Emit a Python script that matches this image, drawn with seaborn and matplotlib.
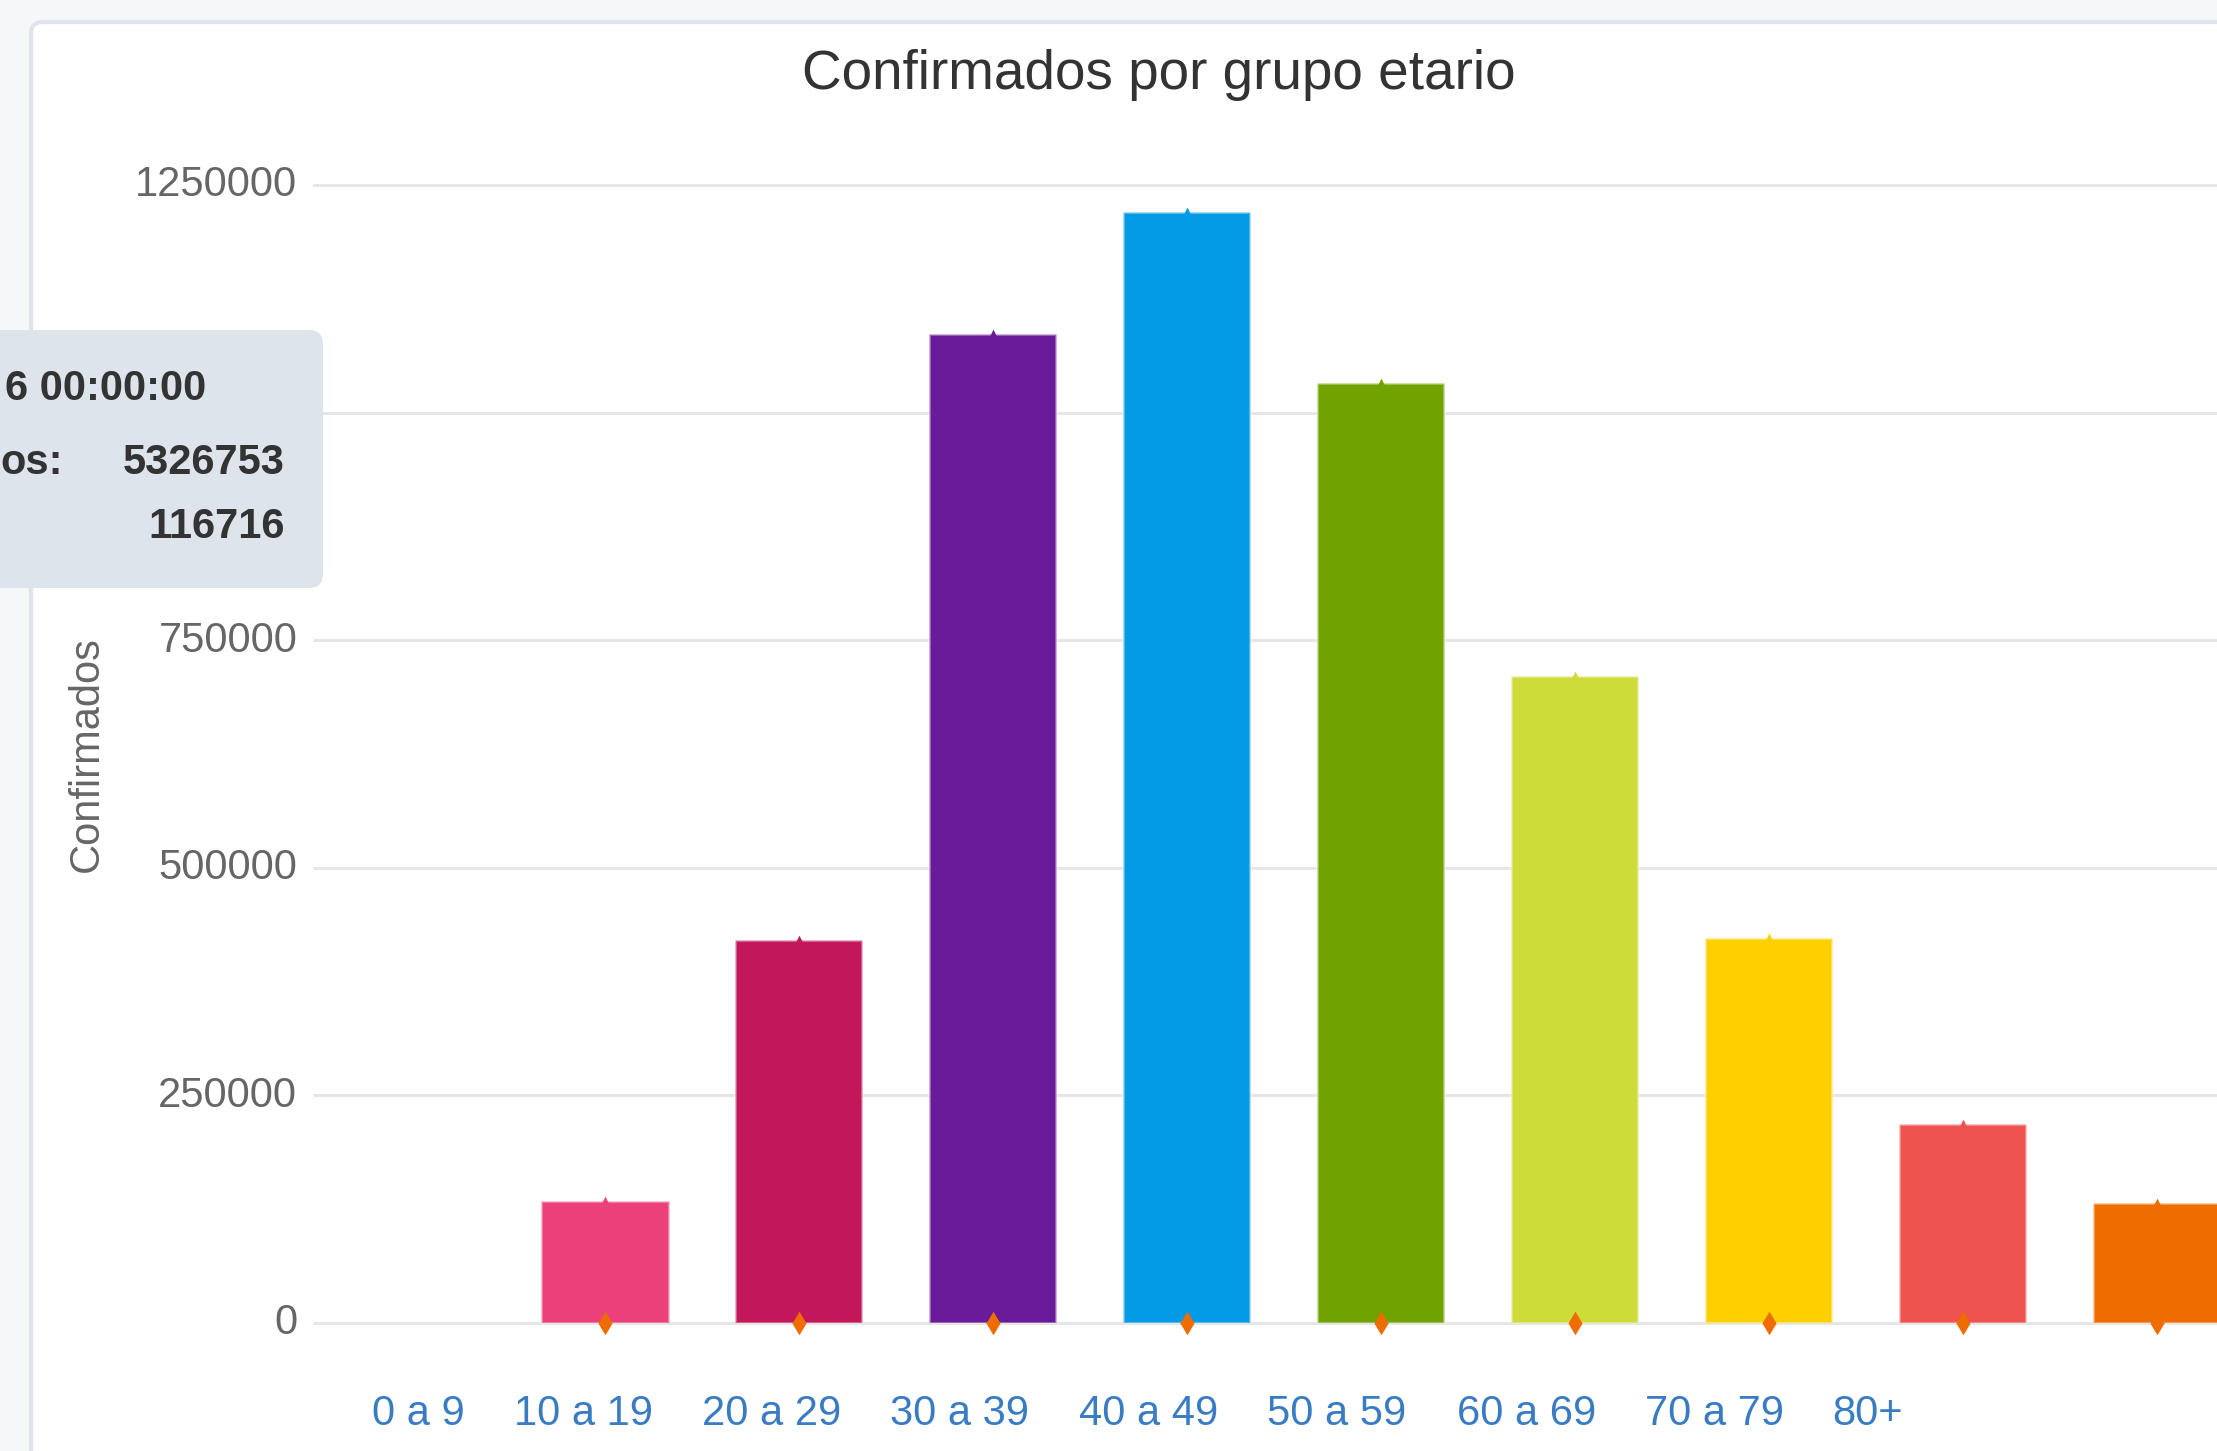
import matplotlib
matplotlib.use("Agg")
import matplotlib.pyplot as plt
from matplotlib.patches import FancyBboxPatch
from matplotlib.transforms import IdentityTransform, ScaledTranslation
import seaborn as sns
import pandas as pd

# values
grupos = ["0 a 9", "10 a 19", "20 a 29", "30 a 39", "40 a 49", "50 a 59", "60 a 69", "70 a 79", "80+"]
confirmados = [134000, 420500, 1086000, 1220000, 1032500, 710500, 423000, 218500, 131800]
serie_base = [0, 0, 0, 0, 0, 0, 0, 0, 0]
colores = ["#ec407a", "#c2185b", "#6a1b9a", "#039be5", "#70a300",
           "#cddc39", "#ffd000", "#ef5350", "#ef6c00"]
y_ticks = [0, 250000, 500000, 750000, 1000000, 1250000]
# the 1000000 label is hidden under the tooltip in the screenshot
y_labels = ["0", "250000", "500000", "750000", "", "1250000"]
tooltip_fecha = "6 00:00:00"
tooltip_etiqueta = "os:"
tooltip_valores = ["5326753", "116716"]

# where the (shifted) category labels sit, in slot units
pos_etiquetas = [0.04, 0.89, 1.86, 2.83, 3.80, 4.77, 5.75, 6.72, 7.51]

W, H = 2217, 1451

sns.set_theme(style="white")
plt.rcParams["font.family"] = ["Liberation Sans", "DejaVu Sans"]

fig = plt.figure(figsize=(W / 100, H / 100), dpi=100)
fig.patch.set_facecolor("#f5f7f9")

# white card behind the chart
card = FancyBboxPatch((31, -40), W + 100, H - 22 + 40,
                      boxstyle="round,pad=0,rounding_size=12",
                      transform=IdentityTransform(), fc="white", ec="#dfe4ec",
                      lw=3, zorder=-5)
fig.add_artist(card)

ax = fig.add_axes([314 / W, 1 - 1323 / H, 1 - 314 / W, (1323 - 185) / H])
ax.patch.set_alpha(0)

df = pd.DataFrame({"grupo": grupos, "confirmados": confirmados, "base": serie_base})
orden = [""] + grupos
paleta = dict(zip(grupos, colores))

sns.barplot(data=df, x="grupo", y="confirmados", order=orden, hue="grupo",
            palette=paleta, width=0.655, saturation=1,
            edgecolor=(1, 1, 1, 0.35), linewidth=2, legend=False, ax=ax, zorder=2)
sns.stripplot(data=df, x="grupo", y="confirmados", order=orden, hue="grupo",
              palette=paleta, marker="^", size=7, jitter=False, linewidth=0,
              legend=False, ax=ax, zorder=3)
sns.stripplot(data=df, x="grupo", y="base", order=orden, color="#ef6c00",
              marker="d", size=12, jitter=False, linewidth=0, ax=ax, zorder=4)
for coll in ax.collections:
    coll.set_clip_on(False)

ax.set_xlim(-0.5, 9.31)
ax.set_ylim(0, 1250000)
ax.set_yticks(y_ticks, y_labels)
ax.set_xticks(pos_etiquetas, grupos)
ax.grid(axis="y", color="#e6e6e6", lw=2.2)
ax.grid(axis="x", visible=False)
ax.set_axisbelow(True)
for gl in ax.yaxis.get_gridlines():
    gl.set_clip_on(False)

ax.tick_params(axis="x", length=0, pad=51, labelsize=30, labelcolor="#3a7cc3")
ax.tick_params(axis="y", length=0, pad=12, labelsize=30, labelcolor="#666666")
# y labels sit a little above their gridlines
lift = ScaledTranslation(0, 4 / 100, fig.dpi_scale_trans)
for lab in ax.get_yticklabels():
    lab.set_transform(lab.get_transform() + lift)
ax.set_xlabel("")
ax.set_ylabel("Confirmados", fontsize=30, color="#666666")
ax.yaxis.set_label_coords(-0.109, 0.5)
for s in ax.spines.values():
    s.set_visible(False)

fig.text(1159, H - 89, "Confirmados por grupo etario", transform=IdentityTransform(),
         ha="center", va="baseline", fontsize=39.5, color="#333333")

# tooltip, cut off at the left edge as in the screenshot
tip = FancyBboxPatch((-30, H - 588), 353, 258, boxstyle="round,pad=0,rounding_size=14",
                     transform=IdentityTransform(), fc="#dee4ec", ec="none", zorder=10)
fig.add_artist(tip)
fig.text(5, H - 400, tooltip_fecha, transform=IdentityTransform(), ha="left",
         va="baseline", fontsize=30, fontweight="bold", color="#333333", zorder=11)
fig.text(0, H - 474, tooltip_etiqueta, transform=IdentityTransform(), ha="left",
         va="baseline", fontsize=30, fontweight="bold", color="#333333", zorder=11)
fig.text(285, H - 474, tooltip_valores[0], transform=IdentityTransform(), ha="right",
         va="baseline", fontsize=30, fontweight="bold", color="#333333", zorder=11)
fig.text(285, H - 538, tooltip_valores[1], transform=IdentityTransform(), ha="right",
         va="baseline", fontsize=30, fontweight="bold", color="#333333", zorder=11)

fig.savefig("out.png", dpi=100)
